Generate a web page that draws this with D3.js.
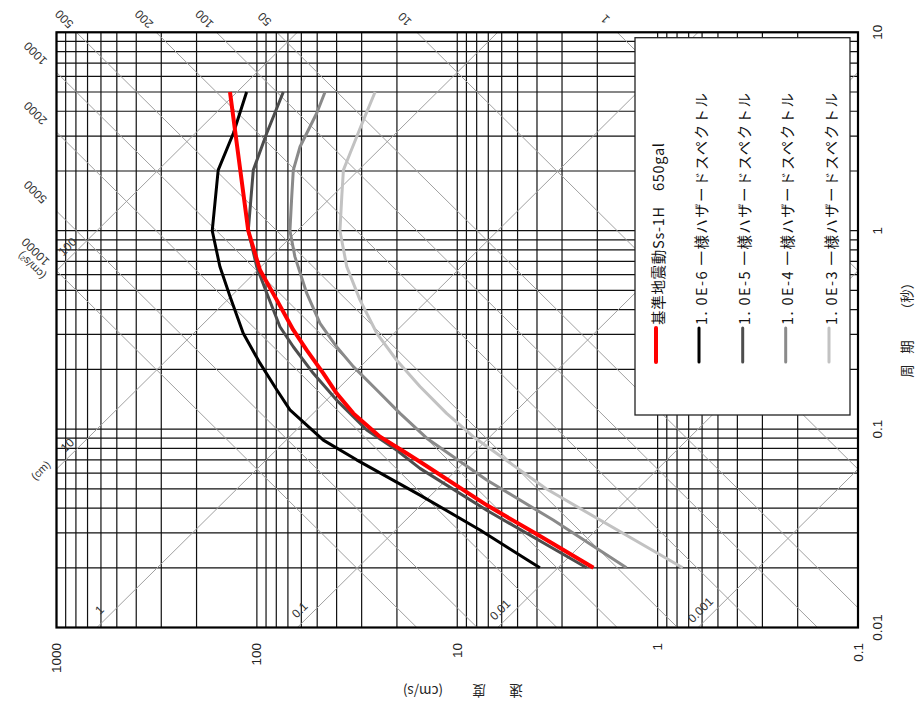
<!DOCTYPE html>
<html><head><meta charset="utf-8">
<script src="https://cdn.jsdelivr.net/npm/d3@7"></script>
<style>body{margin:0;background:#fff}</style>
</head><body>
<svg id="c" width="919" height="706"></svg>
<script>
// ---------- data ----------
const velTicks = [1000, 100, 10, 1, 0.1];
const velTickLabels = ["1000", "100", "10", "1", "0.1"];
const periodTicks = [10, 1, 0.1, 0.01];
const periodTickLabels = ["10", "1", "0.1", "0.01"];

const accelLines = [1, 10, 50, 100, 200, 500, 1000, 2000, 5000, 10000];
const accelTopLabels = [500, 200, 100, 50, 10, 1];
const accelLeftLabels = [1000, 2000, 5000, 10000];
const dispLines = [0.001, 0.01, 0.1, 1, 10, 100];
const dispBottomLabels = [1, 0.1, 0.01, 0.001];
const dispLeftLabels = [100, 10];

const seriesNames = [
  "基準地震動Ss-1H　650gal",
  "1. 0E-6 一様ハザードスペクトル",
  "1. 0E-5 一様ハザードスペクトル",
  "1. 0E-4 一様ハザードスペクトル",
  "1. 0E-3 一様ハザードスペクトル"
];
const seriesColors = ["#ff0000", "#000000", "#4d4d4d", "#8a8a8a", "#c2c2c2"];

const ss1hPeriod = [5, 1.0, 0.634, 0.448, 0.316, 0.25, 0.191, 0.1515, 0.12, 0.0916, 0.0755, 0.0685, 0.0414, 0.0296, 0.02];
const ss1hVel    = [136.2, 110.4, 96.5, 79.6, 65.8, 56.4, 46.6, 40, 33, 24.3, 17.9, 15.35, 7.13, 4.02, 2.09];

const uhs6Period = [5, 3.1, 2.02, 1.0, 0.66, 0.465, 0.304, 0.215, 0.158, 0.125, 0.088, 0.07, 0.0465, 0.031, 0.02];
const uhs6Vel    = [112.5, 131, 156, 167, 153, 136, 117, 96.5, 79.6, 68.4, 46.6, 31.8, 15.35, 7.7, 3.87];

const uhs5Period = [5, 3.1, 2.02, 1.0, 0.659, 0.485, 0.328, 0.26, 0.191, 0.14, 0.099, 0.0785, 0.0634, 0.039, 0.02];
const uhs5Vel    = [73.8, 89.3, 104.2, 110.4, 100.2, 89.3, 76.7, 65.8, 52.3, 40, 28.3, 20.1, 15.35, 7.13, 2.26];

const uhs4Period = [5, 3.91, 2.65, 2.02, 1.48, 1.0, 0.74, 0.484, 0.341, 0.26, 0.2065, 0.1575, 0.12, 0.09, 0.0554, 0.0348, 0.02];
const uhs4Vel    = [45.7, 50.3, 60.9, 65.8, 67, 68.4, 64.6, 56.4, 48.4, 40, 33, 25.2, 19.3, 14.2, 7.13, 3.32, 1.43];

const uhs3Period = [5, 3.61, 2.45, 2.02, 1.48, 1.0, 0.659, 0.448, 0.304, 0.223, 0.164, 0.12, 0.0916, 0.05, 0.02];
const uhs3Vel    = [25.7, 29.4, 34.3, 37.0, 37.7, 38.5, 35.6, 30.6, 25.2, 20.1, 15.35, 11.3, 8.32, 3.6, 0.75];

// ---------- chart ----------
const svg = d3.select("#c");
const L = 56.5, R = 858, T0 = 32.3, B = 627.5;
const x = d3.scaleLog().domain([1000, 0.1]).range([L, R]);
const y = d3.scaleLog().domain([10, 0.01]).range([T0, B]);
const TWO_PI = 2 * Math.PI;
const FONT = "'Liberation Sans', Arial, sans-serif";
const JFONT = "'Noto Sans CJK JP', sans-serif";

svg.append("defs").append("clipPath").attr("id", "clip")
  .append("rect").attr("x", L).attr("y", T0).attr("width", R - L).attr("height", B - T0);

// grid
const grid = svg.append("g");
grid.selectAll(".vg").data(x.ticks()).join("line")
  .attr("x1", d => x(d)).attr("x2", d => x(d)).attr("y1", T0).attr("y2", B)
  .attr("stroke", "#111").attr("stroke-width", 1.2);
grid.selectAll(".hg").data(y.ticks()).join("line")
  .attr("y1", d => y(d)).attr("y2", d => y(d)).attr("x1", L).attr("x2", R)
  .attr("stroke", "#111").attr("stroke-width", 1.2);

// diagonal lines
const diag = svg.append("g").attr("clip-path", "url(#clip)");
const pMin = 0.001, pMax = 100;
diag.selectAll(".acc").data(accelLines).join("line")
  .attr("x1", a => x(a * pMin / TWO_PI)).attr("y1", y(pMin))
  .attr("x2", a => x(a * pMax / TWO_PI)).attr("y2", y(pMax))
  .attr("stroke", "#a0a0a0").attr("stroke-width", 1);
diag.selectAll(".dis").data(dispLines).join("line")
  .attr("x1", d => x(TWO_PI * d / pMin)).attr("y1", y(pMin))
  .attr("x2", d => x(TWO_PI * d / pMax)).attr("y2", y(pMax))
  .attr("stroke", "#a0a0a0").attr("stroke-width", 1);

// curves
const seriesData = [
  [ss1hPeriod, ss1hVel], [uhs6Period, uhs6Vel], [uhs5Period, uhs5Vel],
  [uhs4Period, uhs4Vel], [uhs3Period, uhs3Vel]
];
const line = d3.line().x(d => x(d[1])).y(d => y(d[0]));
const drawOrder = [4, 3, 2, 1, 0];
const widths = [4, 3, 3, 3, 3];
drawOrder.forEach(i => {
  const pts = seriesData[i][0].map((p, k) => [p, seriesData[i][1][k]]);
  svg.append("path").attr("d", line(pts)).attr("fill", "none")
    .attr("stroke", seriesColors[i]).attr("stroke-width", widths[i])
    .attr("stroke-linejoin", "round").attr("clip-path", "url(#clip)");
});

// legend
const lg = svg.append("g");
lg.append("rect").attr("x", 635).attr("y", 37.7).attr("width", 215).attr("height", 377.3)
  .attr("fill", "#fff").attr("stroke", "#222").attr("stroke-width", 1.3);
const legX = [656, 699, 742.7, 785.7, 829];
const legLen = [182, 232, 232, 232, 232];
seriesNames.forEach((n, i) => {
  lg.append("line").attr("x1", legX[i]).attr("x2", legX[i]).attr("y1", 328).attr("y2", 362)
    .attr("stroke", seriesColors[i]).attr("stroke-width", widths[i]).attr("stroke-linecap", "round");
  lg.append("text").attr("transform", `translate(${legX[i] + 1},325) rotate(-90)`)
    .attr("dominant-baseline", "central").attr("font-family", JFONT).attr("font-size", 14.5)
    .attr("textLength", legLen[i]).attr("lengthAdjust", "spacing")
    .attr("fill", "#111").text(n);
});

// border
svg.append("rect").attr("x", L).attr("y", T0).attr("width", R - L).attr("height", B - T0)
  .attr("fill", "none").attr("stroke", "#000").attr("stroke-width", 2.2);

// velocity tick labels (bottom)
svg.selectAll(".vl").data(velTicks).join("text")
  .attr("transform", d => `translate(${x(d)},643) rotate(-90)`)
  .attr("text-anchor", "end").attr("dominant-baseline", "central")
  .attr("font-family", FONT).attr("font-size", 13.5).attr("fill", "#222")
  .text((d, i) => velTickLabels[i]);

// period tick labels (right)
svg.selectAll(".pl").data(periodTicks).join("text")
  .attr("transform", d => `translate(877,${y(d)}) rotate(-90)`)
  .attr("text-anchor", "middle").attr("dominant-baseline", "central")
  .attr("font-family", FONT).attr("font-size", 13.5).attr("fill", "#222")
  .text((d, i) => periodTickLabels[i]);

// acceleration labels, top edge
svg.selectAll(".at").data(accelTopLabels).join("text")
  .attr("transform", a => `translate(${x(a * 10 / TWO_PI) - 12},19) rotate(-135)`)
  .attr("text-anchor", "middle").attr("dominant-baseline", "central")
  .attr("font-family", FONT).attr("font-size", 12).attr("fill", "#333")
  .text(a => a);
// acceleration labels, left edge
svg.selectAll(".al").data(accelLeftLabels).join("text")
  .attr("transform", a => `translate(${L - 21},${y(TWO_PI * 1000 / a) - 19}) rotate(-135)`)
  .attr("text-anchor", "middle").attr("dominant-baseline", "central")
  .attr("font-family", FONT).attr("font-size", 12).attr("fill", "#333")
  .text(a => a);
svg.append("text")
  .attr("transform", `translate(${L - 25},${y(TWO_PI * 1000 / 10000) - 5}) rotate(-135)`)
  .attr("text-anchor", "middle").attr("dominant-baseline", "central")
  .attr("font-family", FONT).attr("font-size", 11).attr("fill", "#333")
  .text("(cm/s²)");

// displacement labels
svg.selectAll(".db").data(dispBottomLabels).join("text")
  .attr("transform", d => `translate(${x(TWO_PI * d / 0.01) + 2.5},610) rotate(-45)`)
  .attr("text-anchor", "middle").attr("dominant-baseline", "central")
  .attr("font-family", FONT).attr("font-size", 12).attr("fill", "#333")
  .text(d => d);
svg.selectAll(".dl").data(dispLeftLabels).join("text")
  .attr("transform", d => `translate(${L + 11},${y(TWO_PI * d / 1000) - 24}) rotate(-45)`)
  .attr("text-anchor", "middle").attr("dominant-baseline", "central")
  .attr("font-family", FONT).attr("font-size", 12).attr("fill", "#333")
  .text(d => d);
svg.append("text")
  .attr("transform", `translate(${L - 16},${y(TWO_PI * 10 / 1000) + 1}) rotate(-45)`)
  .attr("text-anchor", "middle").attr("dominant-baseline", "central")
  .attr("font-family", FONT).attr("font-size", 11).attr("fill", "#333")
  .text("(cm)");

// axis titles
[["速", 516], ["度", 479], ["(cm/s)", 423]].forEach(([t, cx]) => {
  svg.append("text").attr("transform", `translate(${cx},692) rotate(180)`)
    .attr("text-anchor", "middle").attr("dominant-baseline", "central")
    .attr("font-family", JFONT).attr("font-size", 13.5).attr("fill", "#222").text(t);
});
[["周", 371], ["期", 347], ["（秒）", 296]].forEach(([t, cy]) => {
  svg.append("text").attr("transform", `translate(906,${cy}) rotate(-90)`)
    .attr("text-anchor", "middle").attr("dominant-baseline", "central")
    .attr("font-family", JFONT).attr("font-size", 13.5).attr("fill", "#222").text(t);
});
</script>
</body></html>
